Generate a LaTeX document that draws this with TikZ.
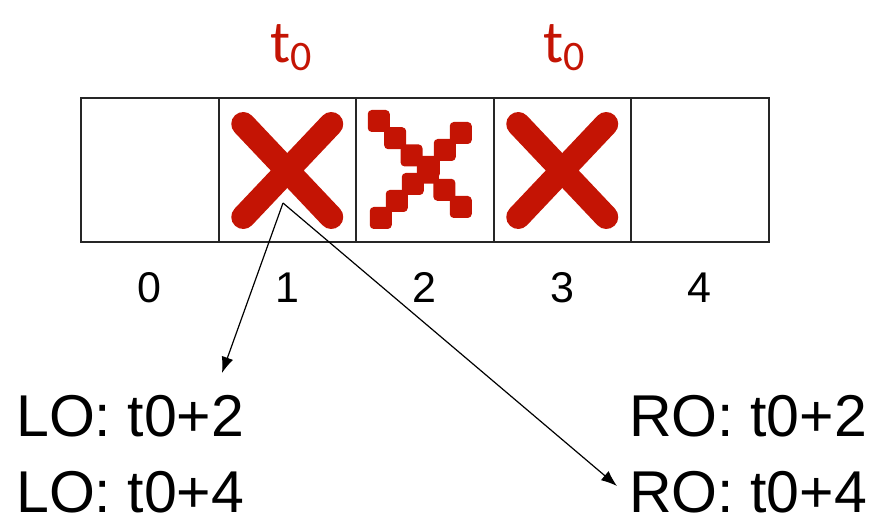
\documentclass[tikz,border=0pt]{standalone}
\usepackage{fontspec}
\setmainfont{Liberation Sans}
\newfontfamily\slotfont{Carlito}
\usepackage{xcolor}
\definecolor{myred}{RGB}{196,20,4}
\colorlet{myframe}{black!85}
\usetikzlibrary{arrows.meta}

\begin{document}
\begin{tikzpicture}[x=1pt, y=-1pt, >={Latex[length=16pt,width=12pt]}, font=\fontsize{59}{70}\selectfont]
    \useasboundingbox (0,0) rectangle (889,518);
    % SLOTS
    \foreach \i in {0,...,4} {
        \node[draw=myframe, line width=2pt, minimum width=137.5pt, minimum height=144pt,
            inner sep=0pt, outer sep=0pt] (cell\i) at (149.75+137.5*\i, 170) {};
        \node[font=\fontsize{43}{50}\selectfont, anchor=base] (num\i) at (149.75+137.5*\i, 303) {\i};
    }
    % t0 marks
    \node[text=myred, font=\slotfont\fontsize{60}{60}\selectfont, anchor=base] (tzeroA) at (291, 63)
        {t\raisebox{-8pt}{\fontsize{42}{42}\selectfont 0}};
    \node[text=myred, font=\slotfont\fontsize{60}{60}\selectfont, anchor=base] (tzeroB) at (564, 63)
        {t\raisebox{-8pt}{\fontsize{42}{42}\selectfont 0}};
    % CROSSES
    \draw[myred, line width=24pt, line cap=round, shift={(cell1)}]
        (-44,-46) -- (44,47) (-44,47) -- (44,-46);
    \draw[myred, line width=24pt, line cap=round, shift={(cell3)}]
        (-44,-46) -- (44,47) (-44,47) -- (44,-46);
    \foreach \k in {0,...,5} {
        \fill[myred, rounded corners=4pt, shift={(cell2)}] (-46+16.4*\k-11, -49+17.2*\k-11) rectangle +(22,22);
        \fill[myred, rounded corners=4pt, shift={(cell2)}] (-44+16*\k-11, 48-17*\k-11) rectangle +(22,22);
    }
    % OUTPUTS
    \node[anchor=base west, inner sep=0pt] (lotwo)  at (16, 437) {LO: t0+2};
    \node[anchor=base west, inner sep=0pt] (lofour) at (16, 512) {LO: t0+4};
    \node[anchor=base west, inner sep=0pt] (rotwo)  at (629, 437) {RO: t0+2};
    \node[anchor=base west, inner sep=0pt] (rofour) at (629, 512) {RO: t0+4};
    \coordinate (src) at (283, 203);
    \coordinate (loend) at (222, 373);
    \coordinate (roend) at (617, 486);
    \draw[->, line width=1.2pt] (src) -- (loend);
    \draw[->, line width=1.2pt] (src) -- (roend);
\end{tikzpicture}
\end{document}
